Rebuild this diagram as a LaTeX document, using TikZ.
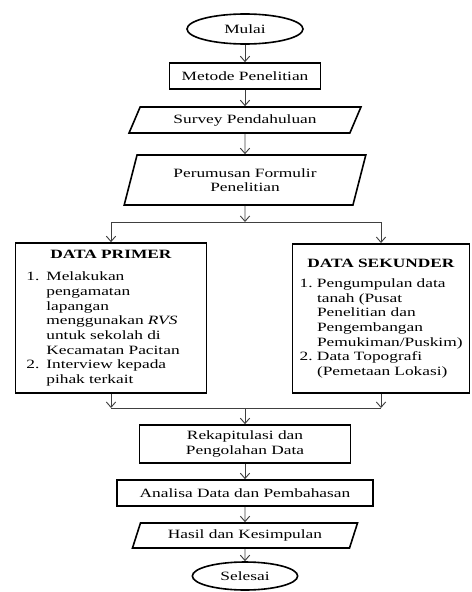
\documentclass[tikz,border=0pt]{standalone}
\usepackage{fontspec}
\setmainfont[FakeStretch=1.37]{Liberation Serif}
\usetikzlibrary{arrows.meta,shapes.geometric}

\newlength{\butirind}
\setlength{\butirind}{15pt}
\newcommand{\butir}[2]{\par\noindent\makebox[\butirind][l]{#1}\mbox{#2}}
\newcommand{\lanjut}[1]{\par\noindent\hspace*{\butirind}\mbox{#1}}

\begin{document}
\begin{tikzpicture}[x=0.75pt,y=-0.75pt,
  font=\fontsize{9.5}{11}\selectfont,
  terminal/.style={ellipse,draw,line width=1.2pt,inner sep=0pt},
  proses/.style={rectangle,draw,line width=1.2pt,align=center,inner sep=2pt},
  io/.style={trapezium,trapezium stretches=true,draw,line width=1.2pt,
    align=center,inner sep=2pt},
  databox/.style={rectangle,draw,line width=1.2pt,align=left,inner ysep=4pt},
  flow/.style={draw=black!75,line width=0.7pt,-{Straight Barb[length=4pt,width=7pt]}},
  garis/.style={draw=black!75,line width=0.7pt}]
  \useasboundingbox (0,0) rectangle (471,592);

  % alur utama atas
  \node[terminal,minimum width=87pt,minimum height=22.5pt] (mulai) at (245,29) {Mulai};
  \node[proses,minimum width=113pt,minimum height=19.5pt] (metode) at (245,76) {Metode Penelitian};
  \node[io,trapezium left angle=65,trapezium right angle=115,
    minimum width=174pt,minimum height=19.5pt] (survey) at (245,120) {Survey Pendahuluan};
  \node[io,trapezium left angle=73,trapezium right angle=107,
    minimum width=181.5pt,minimum height=37.5pt] (perumusan) at (245,180)
    {Perumusan Formulir\\Penelitian};
  \coordinate (split) at (245,222);

  % data primer dan sekunder
  \node[databox,text width=127pt,inner xsep=8pt,minimum height=112.5pt] (primer) at (111,318)
    {{\centering\textbf{DATA PRIMER}\par}\vspace{6pt}
     \butir{1.}{Melakukan}
     \lanjut{pengamatan}
     \lanjut{lapangan}
     \lanjut{menggunakan \textit{RVS}}
     \lanjut{untuk sekolah di}
     \lanjut{Kecamatan Pacitan}
     \butir{2.}{Interview kepada}
     \lanjut{pihak terkait}};
  \node[databox,text width=122pt,inner xsep=5.5pt,minimum height=112pt] (sekunder) at (381,318.5)
    {{\centering\textbf{DATA SEKUNDER}\par}\vspace{4pt}
     \setlength{\butirind}{13pt}%
     \butir{1.}{Pengumpulan data}
     \lanjut{tanah (Pusat}
     \lanjut{Penelitian dan}
     \lanjut{Pengembangan}
     \lanjut{Pemukiman/Puskim)}
     \butir{2.}{Data Topografi}
     \lanjut{(Pemetaan Lokasi)}};
  \coordinate (merge) at (245,408);

  % alur utama bawah
  \node[proses,minimum width=158pt,minimum height=28.5pt] (rekap) at (245,444)
    {Rekapitulasi dan\\Pengolahan Data};
  \node[proses,minimum width=192pt,minimum height=19.5pt] (analisa) at (245,493)
    {Analisa Data dan Pembahasan};
  \node[io,trapezium left angle=70,trapezium right angle=110,
    minimum width=169pt,minimum height=18.75pt] (hasil) at (245,535.5) {Hasil dan Kesimpulan};
  \node[terminal,minimum width=79pt,minimum height=21pt] (selesai) at (245,576) {Selesai};

  % panah
  \draw[flow] (mulai) -- (metode);
  \draw[flow] (metode) -- (survey);
  \draw[flow] (survey) -- (perumusan);
  \draw[flow] (perumusan) -- (split);
  \draw[garis] (split -| primer) -- (split -| sekunder);
  \draw[flow] (split -| primer) -- (primer);
  \draw[flow] (split -| sekunder) -- (sekunder);
  \draw[flow] (primer) -- (merge -| primer);
  \draw[flow] (sekunder) -- (merge -| sekunder);
  \draw[garis] (merge -| primer) -- (merge -| sekunder);
  \draw[flow] (merge) -- (rekap);
  \draw[flow] (rekap) -- (analisa);
  \draw[flow] (analisa) -- (hasil);
  \draw[flow] (hasil) -- (selesai);
\end{tikzpicture}
\end{document}
